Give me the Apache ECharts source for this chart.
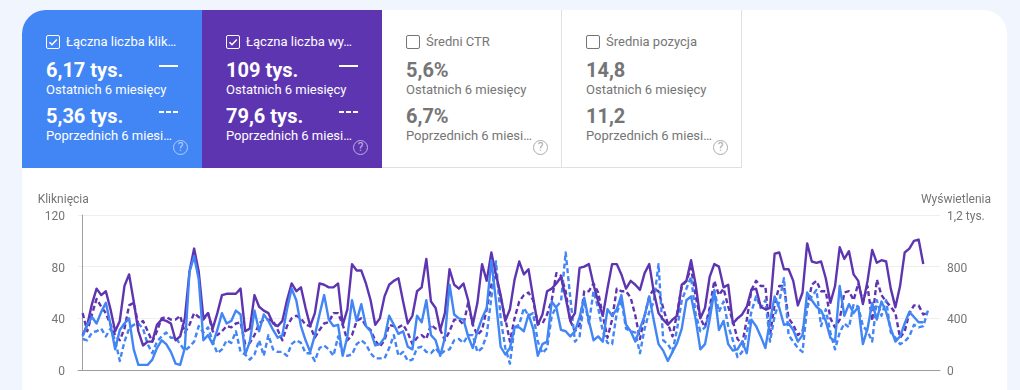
<!DOCTYPE html>
<html>
<head>
<meta charset="utf-8">
<script src="https://cdn.jsdelivr.net/npm/echarts@6/dist/echarts.min.js"></script>
<style>
  html, body { margin: 0; padding: 0; width: 1020px; height: 390px; overflow: hidden; background: #f1f5fd; font-family: Roboto, sans-serif; }
  #panel { position: absolute; left: 22px; top: 10px; width: 985px; height: 380px; background: #fff; border-radius: 24px 24px 0 0; overflow: hidden; }
  #main { position: absolute; left: 0; top: 0; width: 1020px; height: 390px; }
  .card { position: absolute; top: 0; width: 180px; height: 158px; box-sizing: border-box; color: #757575; }
  .card.off { border-right: 1px solid #e0e0e0; border-bottom: 1px solid #e0e0e0; }
  .card.on { color: #fff; }
  .card div { position: absolute; left: 24px; white-space: nowrap; }
  .box { top: 25px; width: 12px; height: 12px; border: 1.3px solid currentColor; border-radius: 2px; }
  .box svg { position: absolute; left: 0; top: 0; }
  .card .title { left: 44px; top: 24px; font-size: 13px; line-height: 16px; }
  .value { font-size: 20px; font-weight: 700; line-height: 24px; }
  .label { font-size: 13px; line-height: 16px; }
  .card.on .label { color: #fff; }
  .card .solid { left: 137px; top: 55px; width: 19px; height: 2px; background: #fff; }
  .card .dash { left: 137px; top: 101px; width: 19px; height: 2px; background: repeating-linear-gradient(90deg, #fff 0 5px, transparent 5px 7px); }
  .card .help { left: 151px; top: 130px; width: 13px; height: 13px; border: 1.5px solid currentColor; border-radius: 50%; font-size: 12px; line-height: 13px; text-align: center; opacity: 0.6; }
</style>
</head>
<body>
<div id="panel"></div>
<div id="main"></div>
<script>
const cardTitles = ['Łączna liczba klik…', 'Łączna liczba wy…', 'Średni CTR', 'Średnia pozycja'];
const cardCurrent = ['6,17 tys.', '109 tys.', '5,6%', '14,8'];
const cardPrevious = ['5,36 tys.', '79,6 tys.', '6,7%', '11,2'];
const cardBackground = ['#4285f4', '#5e35b1', '#fff', '#fff'];
const currentLabel = 'Ostatnich 6 miesięcy';
const previousLabel = 'Poprzednich 6 miesi…';

const leftTicks = {0: '0', 40: '40', 80: '80', 120: '120'};
const rightTicks = {0: '0', 400: '400', 800: '800', 1200: '1,2 tys.'};

// kliknięcia, ostatnie 6 miesięcy
const clicksNow = [26,35,41,36,45,52,35,16,31,36,40,16,4,4,4,8,17,23,20,14,5,4,17,76,88,70,23,27,20,31,44,36,38,46,43,12,22,46,30,43,
  38,31,25,27,47,63,54,34,23,14,27,43,58,39,34,35,11,26,54,38,51,34,30,19,20,25,42,35,28,30,18,16,42,37,54,27,23,11,25,66,43,40,39,26,17,30,40,48,85,53,18,12,17,33,33,
  30,43,32,11,20,22,53,48,31,30,26,30,41,56,38,23,26,22,47,42,47,58,35,30,22,32,42,57,38,20,15,7,14,21,32,54,57,39,16,20,39,61,31,38,20,15,16,22,13,39,34,
  26,17,38,57,48,35,36,31,22,27,60,54,49,46,38,25,22,65,42,51,44,49,20,32,52,39,53,45,32,22,26,36,45,41,37,37];
// kliknięcia, poprzednie 6 miesięcy
const clicksPrev = [24,23,29,30,32,26,32,23,7,22,32,35,36,32,20,13,22,26,29,25,25,20,15,18,22,34,29,33,22,13,16,23,21,30,14,12,8,12,23,11,
  27,16,14,14,11,20,23,21,13,13,7,17,19,16,11,26,12,11,12,20,23,20,13,9,9,9,17,27,11,14,7,8,17,18,14,13,17,12,15,16,23,24,21,27,27,14,17,27,56,84,40,17,5,33,
  35,48,42,44,22,13,17,42,49,53,91,56,22,26,54,36,61,48,30,21,20,44,54,32,30,29,13,32,45,53,82,23,20,14,32,54,63,72,43,30,33,45,62,45,53,34,23,10,14,29,45,57,
  48,54,22,42,53,71,27,22,17,14,49,57,62,34,47,29,16,29,36,33,51,49,34,30,22,54,42,54,29,25,20,22,26,35,33,34,46];
// wyświetlenia, ostatnie 6 miesięcy
const viewsNow = [270,350,510,630,580,610,470,300,380,650,740,530,300,190,220,220,350,390,380,360,230,260,400,760,940,760,400,440,320,440,580,590,590,590,630,300,320,580,490,460,
  440,360,340,380,540,670,610,640,480,340,440,670,660,640,640,670,350,470,820,770,770,670,540,350,400,570,660,690,710,530,360,420,610,640,860,530,480,310,440,780,660,630,670,540,350,520,820,690,910,740,580,380,470,700,840,
  740,780,560,350,430,610,630,670,720,560,380,440,790,800,820,660,530,420,630,820,820,740,630,690,660,620,750,820,600,440,390,350,390,420,660,690,850,660,400,480,720,820,800,640,660,360,400,430,490,620,630,
  490,470,480,900,910,780,780,690,500,600,980,840,830,840,710,520,650,950,860,920,740,690,510,690,930,830,850,840,630,485,650,910,940,1000,1010,820];
// wyświetlenia, poprzednie 6 miesięcy
const viewsPrev = [440,300,430,550,490,440,350,270,230,320,500,520,350,380,300,220,300,400,410,390,390,420,290,350,440,410,390,440,300,270,300,340,330,360,370,200,210,270,360,390,
  390,380,310,230,340,400,420,400,350,340,250,310,360,370,440,440,350,230,270,380,400,340,310,230,180,230,350,340,330,350,290,200,250,270,240,350,320,310,230,300,390,390,350,520,350,270,310,470,660,740,560,400,220,400,530,
  580,600,540,360,360,430,540,750,730,610,380,300,350,610,610,670,600,420,250,390,630,610,610,560,420,240,420,570,630,610,480,360,260,440,650,690,790,570,400,330,480,690,580,630,490,380,240,200,390,620,690,
  650,650,270,510,650,650,400,350,270,300,480,660,690,610,610,400,330,390,600,610,540,670,530,650,380,700,580,530,490,440,250,300,440,500,500,430,440];

const cards = cardTitles.map((title, i) => {
  const on = i < 2;
  const tick = on ? '<svg width="12" height="12" viewBox="0 0 12 12"><path d="M2.5 6.2 L5 8.7 L9.8 3.4" fill="none" stroke="#fff" stroke-width="1.5"/></svg>' : '';
  const marks = on ? '<div class="solid"></div><div class="dash"></div>' : '';
  return `<section class="card ${on ? 'on' : 'off'}" style="left:${180 * i}px;background:${cardBackground[i]}">
    <div class="box">${tick}</div>
    <div class="title">${title}</div>
    <div class="value" style="top:48px">${cardCurrent[i]}</div>
    <div class="label" style="top:72px">${currentLabel}</div>
    <div class="value" style="top:94px">${cardPrevious[i]}</div>
    <div class="label" style="top:118px">${previousLabel}</div>
    ${marks}
    <div class="help">?</div>
  </section>`;
});
document.getElementById('panel').innerHTML = cards.join('');

const chart = echarts.init(document.getElementById('main'));
const toPoints = arr => arr.map((v, i) => [i, v]);

function makeSeries(name, data, yAxisIndex, color, dashed) {
  return {
    name: name,
    type: 'line',
    yAxisIndex: yAxisIndex,
    data: toPoints(data),
    symbol: 'none',
    silent: true,
    lineStyle: {color: color, width: 2.4, type: dashed ? [5, 3] : 'solid', join: 'round'},
  };
}

const axisText = {color: '#757575', fontSize: 12, fontFamily: 'Roboto'};
// tick labels sit a little below their gridline in the original
const tickRich = {t: {...axisText, padding: [4, 0, 0, 0]}};

chart.setOption({
  animation: false,
  backgroundColor: 'transparent',
  grid: {left: 78, right: 80, top: 215, height: 155},
  xAxis: {
    type: 'value',
    min: -1,
    max: 184.6,
    axisLine: {show: true, onZero: false, lineStyle: {color: '#9e9e9e', width: 1}},
    axisTick: {show: false},
    axisLabel: {show: false},
    splitLine: {show: false},
  },
  yAxis: [
    {
      type: 'value',
      min: 0,
      max: 120,
      interval: 40,
      name: 'Kliknięcia',
      nameLocation: 'end',
      nameGap: 9,
      nameTextStyle: {...axisText, align: 'left', padding: [0, 0, 0, -45]},
      axisLine: {show: true, lineStyle: {color: '#9e9e9e', width: 1}},
      axisTick: {show: false},
      axisLabel: {...axisText, margin: 13, rich: tickRich, formatter: v => `{t|${leftTicks[v]}}`},
      splitLine: {lineStyle: {color: '#eeeeee', width: 1}},
    },
    {
      type: 'value',
      position: 'right',
      min: 0,
      max: 1200,
      interval: 400,
      name: 'Wyświetlenia',
      nameLocation: 'end',
      nameGap: 9,
      nameTextStyle: {...axisText, align: 'right', padding: [0, -51, 0, 0]},
      axisLine: {show: false},
      axisTick: {show: false},
      axisLabel: {...axisText, margin: 7, rich: tickRich, formatter: v => `{t|${rightTicks[v]}}`},
      splitLine: {show: false},
    },
  ],
  series: [
    makeSeries('Wyświetlenia poprzednie', viewsPrev, 1, '#5e35b1', true),
    makeSeries('Kliknięcia poprzednie', clicksPrev, 0, '#4285f4', true),
    makeSeries('Wyświetlenia', viewsNow, 1, '#5e35b1', false),
    makeSeries('Kliknięcia', clicksNow, 0, '#4285f4', false),
  ],
});
</script>
</body>
</html>
